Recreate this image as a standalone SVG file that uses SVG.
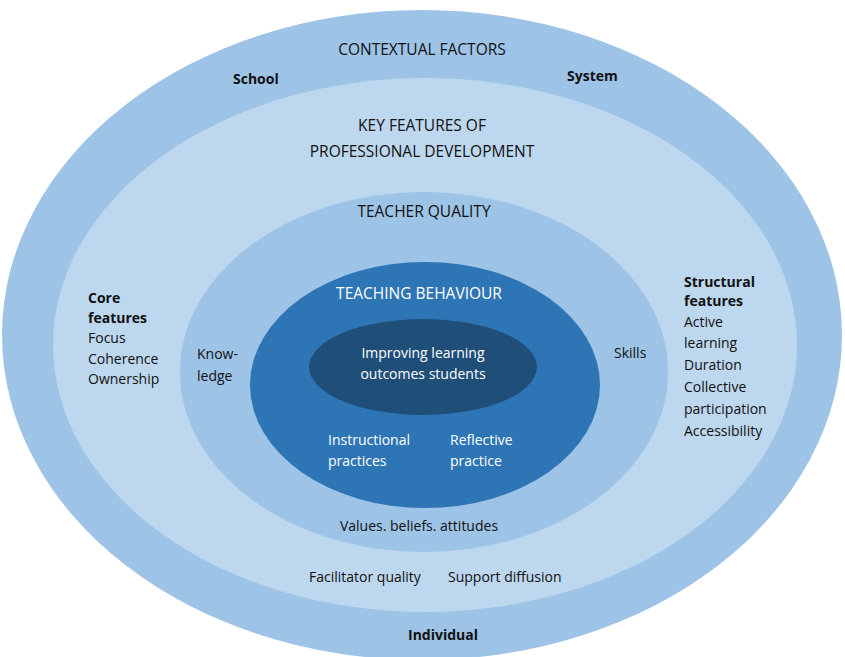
<svg xmlns="http://www.w3.org/2000/svg" width="845" height="657" viewBox="0 0 845 657">
<style>
text{font-family:"Open Sans","Liberation Sans",sans-serif;font-size:14px;fill:#111}
.c{text-anchor:middle}
.b{font-weight:bold}
.w{fill:#fff}
.k{font-size:15.5px}
</style>
<rect width="845" height="657" fill="#fff"/>
<g id="contextual">
<ellipse cx="422" cy="335" rx="420" ry="325" fill="#9DC3E6"/>
<text class="c k" x="422" y="55">CONTEXTUAL FACTORS</text>
<text class="b" x="233" y="84">School</text>
<text class="b" x="567" y="81">System</text>
<text class="b c" x="443" y="640">Individual</text>
</g>
<g id="keyfeatures">
<ellipse cx="425" cy="345" rx="372" ry="267" fill="#BDD7EE"/>
<text class="c k" x="422" y="131">KEY FEATURES OF</text>
<text class="c k" x="422" y="157">PROFESSIONAL DEVELOPMENT</text>
<text class="b" x="88" y="303">Core</text>
<text class="b" x="88" y="323">features</text>
<text x="88" y="343">Focus</text>
<text x="88" y="364">Coherence</text>
<text x="88" y="384">Ownership</text>
<text class="b" x="684" y="287">Structural</text>
<text class="b" x="684" y="306">features</text>
<text x="684" y="327">Active</text>
<text x="684" y="348">learning</text>
<text x="684" y="370">Duration</text>
<text x="684" y="392">Collective</text>
<text x="684" y="414">participation</text>
<text x="684" y="436">Accessibility</text>
<text x="309" y="582">Facilitator quality</text>
<text x="448" y="582">Support diffusion</text>
</g>
<g id="teacherquality">
<ellipse cx="424" cy="372" rx="244" ry="180" fill="#9DC3E6"/>
<text class="c k" x="424" y="217">TEACHER QUALITY</text>
<text x="197" y="359">Know-</text>
<text x="197" y="381">ledge</text>
<text x="614" y="358">Skills</text>
<text class="c" x="419" y="531">Values. beliefs. attitudes</text>
</g>
<g id="teachingbehaviour">
<ellipse cx="425" cy="385" rx="175" ry="123" fill="#2E75B6"/>
<text class="c w k" x="419" y="299">TEACHING BEHAVIOUR</text>
<text class="w" x="328" y="445">Instructional</text>
<text class="w" x="328" y="466">practices</text>
<text class="w" x="450" y="445">Reflective</text>
<text class="w" x="450" y="466">practice</text>
</g>
<g id="outcomes">
<ellipse cx="423" cy="367" rx="114" ry="48" fill="#1F4E79"/>
<text class="c w" x="423" y="358">Improving learning</text>
<text class="c w" x="423" y="379">outcomes students</text>
</g>
<g id="connectors"/>
</svg>
